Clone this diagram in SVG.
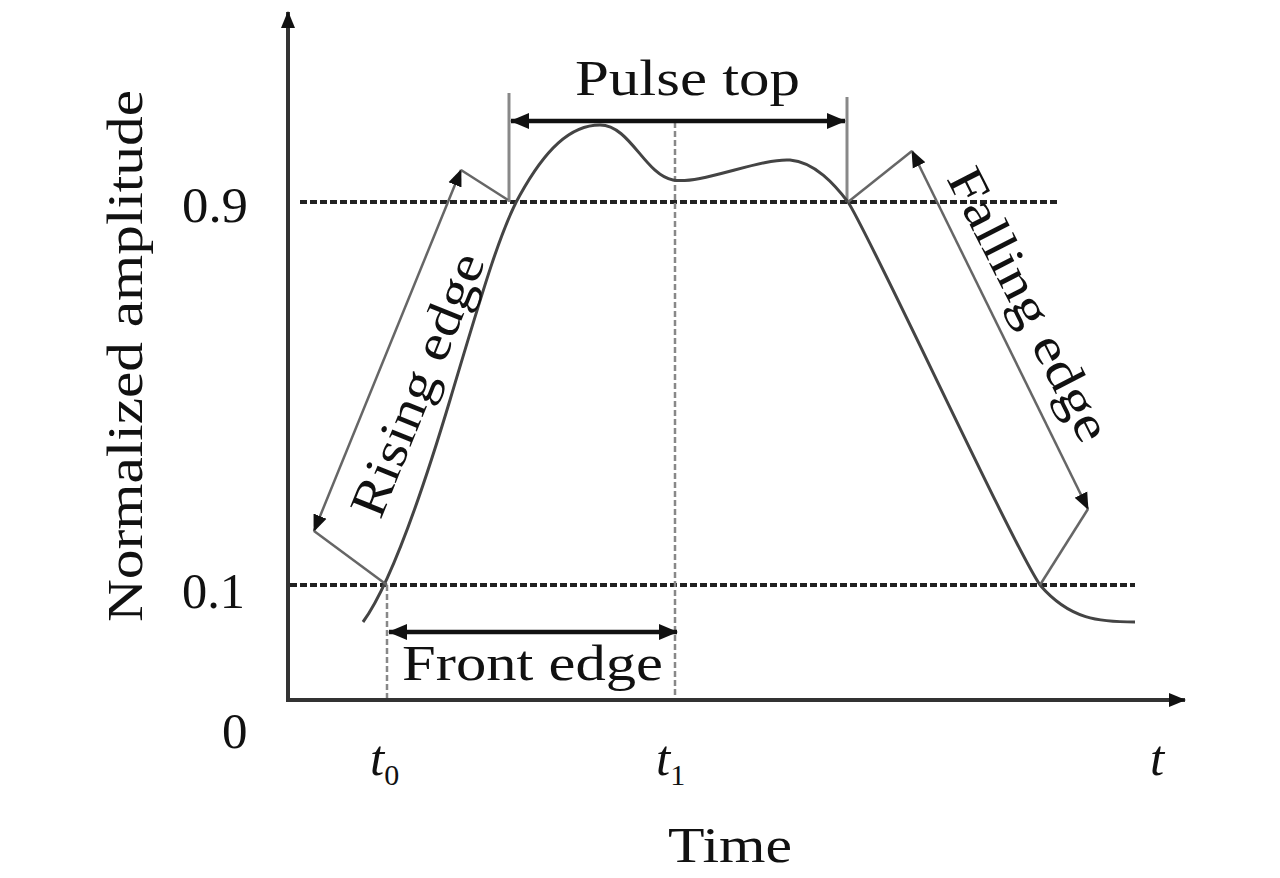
<svg xmlns="http://www.w3.org/2000/svg" width="1280" height="878" viewBox="0 0 1280 878">
<style>
.lbl{font-family:"Liberation Serif","DejaVu Serif",serif;font-size:51px;fill:#111}
.it{font-style:italic}
.axis{stroke:#333;stroke-width:4;fill:none}
.dash{stroke:#222;stroke-width:4;stroke-dasharray:7 3;fill:none}
.vdash{stroke:#888;stroke-width:2.5;stroke-dasharray:6 3;fill:none}
.curve{stroke:#444;stroke-width:3;fill:none}
.thin{stroke:#666;stroke-width:2.5;fill:none}
.bold{stroke:#111;stroke-width:4.5;fill:none}
.guide{stroke:#888;stroke-width:3;fill:none}
</style>
<defs>
<marker id="ah" markerUnits="userSpaceOnUse" markerWidth="22" markerHeight="18" refX="18" refY="9" orient="auto-start-reverse">
<path d="M0,1 L19,9 L0,17 Z" fill="#111"/>
</marker>
<marker id="ahs" markerUnits="userSpaceOnUse" markerWidth="20" markerHeight="16" refX="16" refY="8" orient="auto-start-reverse">
<path d="M0,1 L17,8 L0,15 Z" fill="#111"/>
</marker>
</defs>
<rect width="1280" height="878" fill="#fff"/>
<g id="axes">
<line class="axis" x1="288" y1="700" x2="288" y2="12" marker-end="url(#ahs)"/>
<line class="axis" x1="286" y1="700" x2="1185" y2="700" marker-end="url(#ahs)"/>
</g>
<g id="levels">
<line class="dash" x1="300" y1="202" x2="1060" y2="202"/>
<line class="dash" x1="290" y1="585" x2="1135" y2="585"/>
<line class="vdash" x1="387" y1="585" x2="387" y2="698"/>
<line class="vdash" x1="675" y1="122" x2="675" y2="698"/>
<line class="guide" x1="509" y1="93" x2="509" y2="202"/>
<line class="guide" x1="847" y1="97" x2="847" y2="202"/>
</g>
<g id="pulse">
<path class="curve" d="M363,622 C390,585 420,500 450,400 C480,300 500,230 520,195 C545,150 570,125 600,125 C630,125 645,175 673,180 C700,185 760,158 790,160 C815,162 835,185 848,202 C870,235 1010,540 1040,585 C1070,620 1100,622 1135,622"/>
</g>
<g id="connectors">
<line class="bold" x1="511" y1="121" x2="845" y2="121" marker-start="url(#ah)" marker-end="url(#ah)"/>
<line class="bold" x1="389" y1="632" x2="677" y2="632" marker-start="url(#ah)" marker-end="url(#ah)"/>
<line class="thin" x1="461" y1="170" x2="314" y2="531" marker-start="url(#ahs)" marker-end="url(#ahs)"/>
<polyline class="thin" points="461,170 508,200"/>
<polyline class="thin" points="314,531 387,585"/>
<line class="thin" x1="912" y1="151" x2="1088" y2="509" marker-start="url(#ahs)" marker-end="url(#ahs)"/>
<polyline class="thin" points="848,202 912,151"/>
<polyline class="thin" points="1088,509 1040,585"/>
</g>
<g id="labels">
<text class="lbl" x="182" y="222" textLength="66" lengthAdjust="spacingAndGlyphs">0.9</text>
<text class="lbl" x="182" y="608" textLength="63" lengthAdjust="spacingAndGlyphs">0.1</text>
<text class="lbl" x="222" y="748">0</text>
<text class="lbl" x="575" y="95" textLength="225" lengthAdjust="spacingAndGlyphs">Pulse top</text>
<text class="lbl" x="402" y="680" textLength="261" lengthAdjust="spacingAndGlyphs">Front edge</text>
<text class="lbl" x="668" y="862" textLength="124" lengthAdjust="spacingAndGlyphs">Time</text>
<text class="lbl it" x="370" y="775">t<tspan font-size="30" font-style="normal" dy="10">0</tspan></text>
<text class="lbl it" x="656" y="775">t<tspan font-size="30" font-style="normal" dy="10">1</tspan></text>
<text class="lbl it" x="1150" y="775">t</text>
<text class="lbl" text-anchor="middle" transform="translate(142,356) rotate(-90)" textLength="532" lengthAdjust="spacingAndGlyphs">Normalized amplitude</text>
<text class="lbl" text-anchor="middle" transform="translate(433,391) rotate(-68)" textLength="280" lengthAdjust="spacingAndGlyphs">Rising edge</text>
<text class="lbl" text-anchor="middle" transform="translate(1014,312) rotate(63)" textLength="300" lengthAdjust="spacingAndGlyphs">Falling edge</text>
</g>
</svg>
